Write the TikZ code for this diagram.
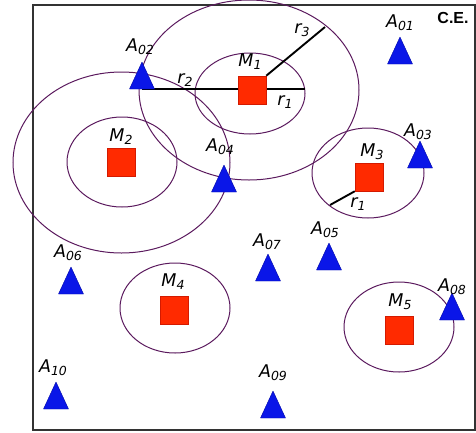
\documentclass[tikz,border=0pt]{standalone}
\usepackage{fontspec}
\newfontfamily\markfont{DejaVu Sans}
\newfontfamily\cefont{Liberation Sans}
\usetikzlibrary{positioning}
\definecolor{ringc}{HTML}{5B1A5E}
\definecolor{mfill}{HTML}{FF2A00}
\definecolor{mdraw}{HTML}{D41A00}
\definecolor{afill}{HTML}{0A16E8}
\definecolor{adraw}{HTML}{0008A8}
\newcommand{\subtxt}[2]{#1\raisebox{-0.3ex}{\fontsize{12.5}{12.5}\selectfont#2}}
\tikzset{
  zone/.style={draw=ringc,line width=1pt},
  mach/.style={draw=mdraw,fill=mfill,minimum size=28pt,inner sep=0pt,line width=0.5pt},
  ant/.style={fill=afill,draw=adraw,line width=0.4pt,line join=round},
  tag/.style={font=\markfont\itshape\fontsize{17.5}{17.5}\selectfont,inner sep=0pt},
  rad/.style={line width=1.9pt,draw=black},
  frame/.style={draw=black!80,line width=1.3pt}
}
\begin{document}
\begin{tikzpicture}[x=1pt,y=-1pt]
  \useasboundingbox (0,0) rectangle (476,432);
  \draw[frame] (33,5) rectangle (475,430);
  \node[font=\cefont\bfseries\fontsize{16}{16}\selectfont,inner sep=0pt] (ce) at (453,18) {C.E.};
  % zones round the machines
  \draw[zone] (249,90) ellipse [x radius=110,y radius=90];
  \draw[zone] (250,93.5) ellipse [x radius=55,y radius=40.5];
  \draw[zone] (121.5,162.5) ellipse [x radius=108.5,y radius=90.5];
  \draw[zone] (122,162) ellipse [x radius=55,y radius=45];
  \draw[zone] (368,173) ellipse [x radius=56,y radius=45];
  \draw[zone] (175,308) ellipse [x radius=55,y radius=45];
  \draw[zone] (399,327) ellipse [x radius=55,y radius=45];
  % radius r1/r2 runs behind M1
  \coordinate (a02) at (142,89);
  \coordinate (r1end) at (305,89);
  \draw[rad] (a02) -- (r1end);
  % machines
  \node[mach] (m1) at (252,90) {};
  \node[mach] (m2) at (121,162) {};
  \node[mach] (m3) at (369,177) {};
  \node[mach] (m4) at (174,310) {};
  \node[mach] (m5) at (399,330) {};
  % other radii
  \coordinate (r3end) at (325,27);
  \coordinate (r1mend) at (330,205);
  \draw[rad] (m1.north east) -- (r3end);
  \draw[rad] (m3.south west) -- (r1mend);
  \node[tag] (r3l) at (302,30) {\subtxt{r}{3}};
  \node[tag] (r2l) at (185,80) {\subtxt{r}{2}};
  \node[tag] (r1l) at (285,102) {\subtxt{r}{1}};
  \node[tag] (r1m) at (358,204) {\subtxt{r}{1}};
  % machine labels
  \node[tag] (m1l) at (250,62) {\subtxt{M}{1}};
  \node[tag] (m2l) at (121,137) {\subtxt{M}{2}};
  \node[tag] (m3l) at (372,152) {\subtxt{M}{3}};
  \node[tag] (m4l) at (173,282) {\subtxt{M}{4}};
  \node[tag] (m5l) at (400,302) {\subtxt{M}{5}};
  % antennas
  \foreach \n/\x/\y/\lx/\ly in {01/400/64/400/23, 02/142/89/140/47, 03/420/168/418/132,
      04/224/192/220/147, 05/329/270/325/230, 06/71/294/68/253, 07/268/281/267/242,
      08/452/320/452/287, 09/273/418/273/373, 10/56/409/53/368}{
    \coordinate (a\n) at (\x,\y);
    \fill[ant] (\x-12.5,\y) -- (\x+12.5,\y) -- (\x,\y-27) -- cycle;
    \node[tag] (al\n) at (\lx,\ly) {\subtxt{A}{\n}};
  }
\end{tikzpicture}
\end{document}
